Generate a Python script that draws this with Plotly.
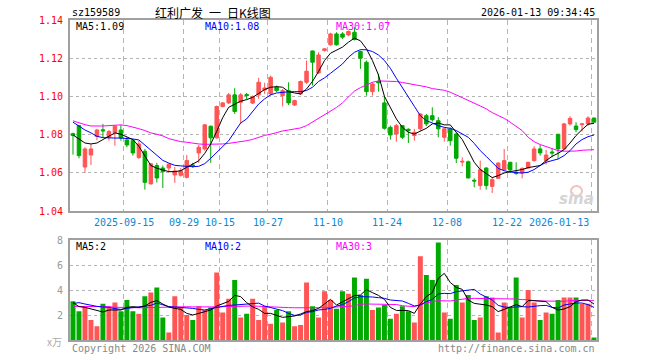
import plotly.graph_objects as go

# ---------------- data ----------------
opens = [1.0805,1.0847,1.0630,1.0693,1.0790,1.0825,1.0786,1.0810,1.0824,1.0772,
         1.0768,1.0680,1.0713,1.0542,1.0638,1.0625,1.0625,1.0589,1.0587,1.0576,
         1.0641,1.0704,1.0725,1.0844,1.0783,1.0947,1.0966,1.1008,1.0969,1.1010,
         1.0965,1.1008,1.1034,1.1013,1.1048,1.1004,1.1030,1.0955,1.1013,1.1074,
         1.1238,1.1123,1.1240,1.1270,1.1327,1.1327,1.1322,1.1336,1.1235,1.1179,
         1.1025,1.1078,1.0966,1.0838,1.0803,1.0847,1.0828,1.0795,1.0830,1.0899,
         1.0899,1.0873,1.0786,1.0830,1.0803,1.0656,1.0658,1.0561,1.0533,1.0625,
         1.0529,1.0571,1.0616,1.0655,1.0603,1.0599,1.0625,1.0664,1.0725,1.0664,
         1.0709,1.0802,1.0725,1.0856,1.0845,1.0852,1.0856,1.0887]
highs = [1.0810,1.0850,1.0734,1.0750,1.0830,1.0856,1.0824,1.0850,1.0850,1.0786,
         1.0777,1.0768,1.0725,1.0652,1.0652,1.0638,1.0648,1.0630,1.0625,1.0693,
         1.0652,1.0746,1.0856,1.0847,1.0952,1.0970,1.1018,1.1043,1.1018,1.1018,
         1.1005,1.1097,1.1071,1.1109,1.1057,1.1039,1.1074,1.0982,1.1083,1.1188,
         1.1240,1.1231,1.1252,1.1333,1.1336,1.1336,1.1345,1.1362,1.1240,1.1188,
         1.1074,1.1118,1.1001,1.0847,1.0856,1.0850,1.0833,1.0830,1.0910,1.0908,
         1.0943,1.0891,1.0838,1.0838,1.0812,1.0681,1.0664,1.0571,1.0664,1.0629,
         1.0576,1.0655,1.0725,1.0658,1.0655,1.0629,1.0658,1.0739,1.0746,1.0721,
         1.0725,1.0803,1.0861,1.0896,1.0865,1.0861,1.0896,1.0887]
lows = [1.0695,1.0676,1.0600,1.0641,1.0770,1.0786,1.0768,1.0742,1.0768,1.0734,
        1.0690,1.0672,1.0512,1.0538,1.0550,1.0520,1.0603,1.0547,1.0580,1.0571,
        1.0625,1.0652,1.0716,1.0652,1.0778,1.0943,1.0960,1.0908,1.0856,1.0985,
        1.0960,1.0987,1.1013,1.1004,1.1022,1.0948,1.0955,1.0950,1.1008,1.1065,
        1.1057,1.1118,1.1235,1.1266,1.1266,1.1301,1.1315,1.1293,1.1144,1.1004,
        1.1004,1.1025,1.0826,1.0774,1.0763,1.0777,1.0756,1.0768,1.0821,1.0844,
        1.0868,1.0786,1.0763,1.0742,1.0651,1.0634,1.0571,1.0524,1.0512,1.0512,
        1.0494,1.0568,1.0611,1.0603,1.0589,1.0571,1.0623,1.0658,1.0690,1.0643,
        1.0681,1.0672,1.0721,1.0847,1.0812,1.0816,1.0847,1.0865]
closes = [1.0795,1.0690,1.0725,1.0725,1.0824,1.0820,1.0816,1.0844,1.0782,1.0746,
          1.0704,1.0751,1.0550,1.0647,1.0573,1.0606,1.0645,1.0610,1.0611,1.0664,
          1.0636,1.0734,1.0851,1.0783,1.0947,1.0966,1.1008,1.0921,1.1008,1.1004,
          1.0999,1.1074,1.1044,1.1100,1.1030,1.1030,1.0966,1.0978,1.1078,1.1132,
          1.1179,1.1217,1.1249,1.1327,1.1270,1.1310,1.1340,1.1298,1.1200,1.1025,
          1.1065,1.1071,1.0833,1.0798,1.0847,1.0786,1.0821,1.0812,1.0908,1.0856,
          1.0878,1.0830,1.0830,1.0768,1.0676,1.0660,1.0573,1.0557,1.0616,1.0533,
          1.0564,1.0651,1.0664,1.0615,1.0597,1.0623,1.0655,1.0725,1.0704,1.0693,
          1.0704,1.0725,1.0856,1.0885,1.0826,1.0856,1.0887,1.0865]
volumes = [3.1,2.3,2.7,1.6,1.1,2.9,2.6,3.0,2.3,3.2,
           2.3,2.1,3.5,3.8,4.2,1.8,0.6,3.5,2.6,2.0,
           1.6,2.7,2.4,2.6,5.4,2.2,3.3,4.8,1.8,2.1,
           3.3,1.6,2.7,1.3,2.4,1.4,2.3,1.1,1.2,4.6,
           2.7,1.8,3.9,3.2,2.5,3.9,3.7,5.0,3.6,4.9,
           2.4,2.6,2.8,1.7,2.1,2.7,2.3,1.4,6.7,5.2,
           4.8,7.8,2.2,1.7,4.4,3.0,3.6,1.6,1.8,3.5,
           3.4,0.6,3.0,2.6,5.0,1.8,4.0,3.0,1.6,2.2,
           2.1,3.2,3.4,3.4,3.4,2.9,2.9,0.2]
ma5 = [1.0798,1.0777,1.0756,1.0751,1.0756,1.0774,1.0791,1.0809,1.0802,1.0786,
       1.0774,1.0739,1.0686,1.0638,1.0624,1.0615,1.0606,1.0606,1.0611,1.0629,
       1.0645,1.0663,1.0702,1.0751,1.0817,1.0889,1.0943,1.0961,1.0975,1.0983,
       1.0995,1.1015,1.1036,1.1048,1.1051,1.1048,1.1025,1.1018,1.1013,1.1039,
       1.1079,1.1130,1.1188,1.1226,1.1240,1.1258,1.1284,1.1305,1.1291,1.1249,
       1.1188,1.1113,1.1001,1.0943,1.0882,1.0838,1.0812,1.0803,1.0816,1.0833,
       1.0856,1.0861,1.0851,1.0851,1.0812,1.0774,1.0716,1.0655,1.0617,1.0594,
       1.0575,1.0585,1.0599,1.0606,1.0610,1.0617,1.0627,1.0631,1.0638,1.0664,
       1.0686,1.0702,1.0721,1.0756,1.0795,1.0826,1.0854,1.0859]
ma10 = [1.0865,1.0844,1.0824,1.0809,1.0791,1.0784,1.0782,1.0782,1.0782,1.0781,
        1.0777,1.0772,1.0746,1.0716,1.0690,1.0665,1.0651,1.0639,1.0636,1.0634,
        1.0632,1.0634,1.0648,1.0676,1.0707,1.0742,1.0768,1.0815,1.0861,1.0882,
        1.0920,1.0960,1.0987,1.1008,1.1018,1.1022,1.1024,1.1025,1.1025,1.1031,
        1.1048,1.1078,1.1097,1.1121,1.1144,1.1170,1.1205,1.1231,1.1245,1.1244,
        1.1235,1.1217,1.1188,1.1147,1.1095,1.1048,1.0995,1.0948,1.0899,1.0873,
        1.0861,1.0847,1.0838,1.0833,1.0821,1.0805,1.0786,1.0754,1.0716,1.0686,
        1.0655,1.0623,1.0611,1.0604,1.0601,1.0599,1.0603,1.0617,1.0638,1.0655,
        1.0664,1.0672,1.0690,1.0716,1.0751,1.0774,1.0789,1.0798]
ma30 = [1.0872,1.0861,1.0852,1.0845,1.0844,1.0845,1.0847,1.0849,1.0851,1.0847,
        1.0840,1.0831,1.0821,1.0809,1.0802,1.0793,1.0779,1.0770,1.0763,1.0760,
        1.0754,1.0751,1.0749,1.0749,1.0749,1.0751,1.0754,1.0758,1.0763,1.0768,
        1.0775,1.0786,1.0796,1.0802,1.0812,1.0819,1.0824,1.0830,1.0835,1.0847,
        1.0866,1.0885,1.0902,1.0922,1.0942,1.0966,1.0995,1.1028,1.1046,1.1062,
        1.1074,1.1081,1.1081,1.1081,1.1078,1.1073,1.1067,1.1062,1.1057,1.1050,
        1.1041,1.1036,1.1032,1.1022,1.1008,1.0994,1.0982,1.0966,1.0950,1.0935,
        1.0915,1.0900,1.0885,1.0865,1.0844,1.0821,1.0786,1.0763,1.0748,1.0737,
        1.0725,1.0716,1.0713,1.0713,1.0714,1.0718,1.0721,1.0721]
vma5 = [3.0,2.67,2.61,2.5,2.35,2.24,2.4,2.4,2.4,2.61,
        2.67,2.61,2.72,3.01,3.15,2.88,2.64,2.53,2.45,2.13,
        2.0,2.13,2.29,2.4,2.72,2.88,3.09,3.57,3.47,2.99,
        2.65,2.45,2.13,2.13,2.0,1.81,1.87,1.92,2.08,2.27,
        2.35,2.53,2.88,3.25,2.8,3.04,3.28,3.55,3.6,4.03,
        3.79,3.57,3.25,2.61,2.37,2.35,2.35,2.13,2.88,3.47,
        3.79,4.93,5.33,4.6,4.21,4.05,3.2,2.93,2.88,2.8,
        2.67,2.27,2.45,2.61,2.83,2.67,3.15,3.15,3.12,3.07,
        2.61,2.4,2.48,2.67,3.07,3.2,3.2,2.88]
vma10 = [2.91,2.99,2.88,2.77,2.69,2.64,2.61,2.51,2.45,2.53,
         2.59,2.61,2.69,2.77,2.96,2.83,2.67,2.64,2.61,2.56,
         2.53,2.45,2.4,2.51,2.61,2.72,2.77,2.8,2.85,2.91,
         2.95,2.95,2.72,2.61,2.48,2.35,2.13,1.97,2.0,2.21,
         2.27,2.4,2.45,2.53,2.72,2.83,3.07,3.36,3.47,3.47,
         3.44,3.39,3.33,3.2,3.17,3.12,2.93,2.72,2.8,3.07,
         3.25,3.68,3.73,3.71,3.87,3.95,4.0,4.05,3.68,3.41,
         3.2,2.77,2.64,2.61,2.67,2.67,2.64,2.72,2.75,2.77,
         2.61,2.56,2.8,2.88,2.96,2.96,2.83,2.61]
vma30 = [2.69,2.69,2.7,2.69,2.68,2.68,2.67,2.62,2.6,2.59,
         2.59,2.58,2.59,2.6,2.62,2.65,2.67,2.67,2.67,2.66,
         2.65,2.64,2.64,2.63,2.65,2.67,2.69,2.7,2.7,2.69,
         2.72,2.7,2.67,2.66,2.62,2.6,2.59,2.58,2.57,2.56,
         2.56,2.57,2.58,2.61,2.62,2.63,2.7,2.74,2.86,2.88,
         2.88,2.86,2.85,2.85,2.84,2.74,2.72,2.67,2.85,2.99,
         3.07,3.15,3.15,3.12,3.2,3.28,3.33,3.33,3.33,3.33,
         3.33,3.33,3.32,3.28,3.28,3.23,3.23,3.14,3.12,3.12,
         3.08,3.07,3.09,3.15,3.15,3.17,3.17,3.17]

date_idx = [9, 19, 25, 33, 43, 53, 63, 73, 87]
date_labels = ["2025-09-15", "09-29", "10-15", "10-27", "11-10",
               "11-24", "12-08", "12-22", "2026-01-13"]
price_ticks = [1.04, 1.06, 1.08, 1.10, 1.12, 1.14]
vol_ticks = [2, 4, 6, 8]

# ---------------- figure ----------------
RED = "#ff5555"
GREEN = "#00aa00"
MONO = "DejaVu Sans Mono"
x = list(range(len(closes)))
grid_x = [i - 0.5 for i in date_idx]

fig = go.Figure()
fig.add_trace(go.Candlestick(
    x=x, open=opens, high=highs, low=lows, close=closes,
    increasing=dict(line=dict(color=RED, width=1), fillcolor=RED),
    decreasing=dict(line=dict(color=GREEN, width=1), fillcolor=GREEN),
    whiskerwidth=0, xaxis="x", yaxis="y", showlegend=False, hoverinfo="skip"))
for vals, col in [(ma30, "#ff00ff"), (ma10, "#0000ff"), (ma5, "#000000")]:
    fig.add_trace(go.Scatter(x=x, y=vals, mode="lines", line=dict(color=col, width=1),
                             xaxis="x", yaxis="y", showlegend=False, hoverinfo="skip"))

vcolors = [RED if c >= o else GREEN for o, c in zip(opens, closes)]
fig.add_trace(go.Bar(x=x, y=volumes, marker=dict(color=vcolors, line=dict(width=0)),
                     width=0.83, xaxis="x2", yaxis="y2", showlegend=False, hoverinfo="skip"))
for vals, col in [(vma30, "#ff00ff"), (vma10, "#0000ff"), (vma5, "#000000")]:
    fig.add_trace(go.Scatter(x=x, y=vals, mode="lines", line=dict(color=col, width=1),
                             xaxis="x2", yaxis="y2", showlegend=False, hoverinfo="skip"))

L, R, T, B = 70, 63, 20, 20
W, H = 660, 360
PW, PH = W - L - R, H - T - B


def py(p):  # pixel y -> paper
    return (H - B - p) / PH


def px(p):  # pixel x -> paper
    return (p - L) / PW


border = dict(showline=True, mirror=True, linecolor="#a0a0a0", linewidth=2)
xcommon = dict(range=[-0.5, len(x) - 0.5], tickmode="array", tickvals=grid_x,
               showticklabels=False, ticks="", showgrid=True, gridcolor="#b4b4b4",
               griddash="5px,4px", gridwidth=1, zeroline=False, fixedrange=True, **border)

fig.update_layout(
    width=W, height=H, autosize=False,
    margin=dict(l=L, r=R, t=T, b=B, pad=0),
    paper_bgcolor="white", plot_bgcolor="white",
    boxgap=0.17, bargap=0.17,
    font=dict(family=MONO, size=10),
    xaxis=dict(domain=[0, 1], anchor="y", rangeslider=dict(visible=False), **xcommon),
    yaxis=dict(domain=[py(211), 1], range=[1.04, 1.14], tickmode="array",
               tickvals=price_ticks, ticktext=[f"{v:.2f}" for v in price_ticks],
               tickfont=dict(color="#ff0000", size=10, family=MONO),
               ticks="outside", ticklen=3, tickcolor="rgba(0,0,0,0)",
               showgrid=True, gridcolor="#b4b4b4", griddash="dot", zeroline=False,
               fixedrange=True, **border),
    xaxis2=dict(domain=[0, 1], anchor="y2", matches="x", **xcommon),
    yaxis2=dict(domain=[0, py(240)], range=[0, 8], tickmode="array",
                tickvals=vol_ticks, ticktext=[str(v) for v in vol_ticks],
                tickfont=dict(color="#999999", size=10, family=MONO),
                ticks="outside", ticklen=3, tickcolor="rgba(0,0,0,0)",
                showgrid=True, gridcolor="#b4b4b4", griddash="dot", zeroline=False,
                fixedrange=True, **border),
)

ann = []


def text(t, xp, yp, color, xanchor="left", size=10, family=MONO, xref="paper", **kw):
    ann.append(dict(text=t, x=xp, y=yp, xref=xref, yref="paper", showarrow=False,
                    xanchor=xanchor, yanchor="middle",
                    font=dict(color=color, size=size, family=family), **kw))


# header
text("sz159589", px(70), py(13), "#000000")
text("红利广发\u2002一\u2002日K线图", px(213), py(13), "#000000", xanchor="center", size=12,
     family="Noto Sans CJK SC")
text("2026-01-13 09:34:45", px(597), py(13), "#000000", xanchor="right")
# price MA legend
text(f"MA5:{ma5[-1]:.2f}", px(74), py(26), "#000000")
text(f"MA10:{ma10[-1]:.2f}", px(203), py(26), "#0000ff")
text(f"MA30:{ma30[-1]:.2f}", px(334), py(26), "#ff00ff")
# volume MA legend
text(f"MA5:{int(vma5[-1])}", px(74), py(246), "#000000")
text(f"MA10:{int(vma10[-1])}", px(203), py(246), "#0000ff")
text(f"MA30:{int(vma30[-1])}", px(334), py(246), "#ff00ff")
# date labels
for i, lab in zip(date_idx, date_labels):
    anchor = "right" if i == date_idx[-1] else "center"
    text(lab, i - 0.5, py(222), "#0a88d6", xanchor=anchor, xref="x")
# footer
text("x万", px(64), py(341), "#aaaaaa", xanchor="right", size=10, family="Noto Sans CJK SC")
text("Copyright 2026 SINA.COM", px(70), py(348), "#888888")
text("http://finance.sina.com.cn", px(597), py(348), "#888888", xanchor="right")
# watermark
text("<b><i>sina</i></b>", px(596), py(199), "#d4d4d4", xanchor="right", size=15,
     family="DejaVu Sans")

fig.update_layout(
    annotations=ann,
    shapes=[dict(type="circle", xref="paper", yref="paper",
                 x0=px(571), x1=px(582), y0=py(196), y1=py(186),
                 line=dict(color="#f2c0c0", width=2), layer="below")],
)
fig.write_html("out.html", config={"displayModeBar": False, "staticPlot": True},
               post_script="document.body.style.margin='0';document.body.style.padding='0';")
